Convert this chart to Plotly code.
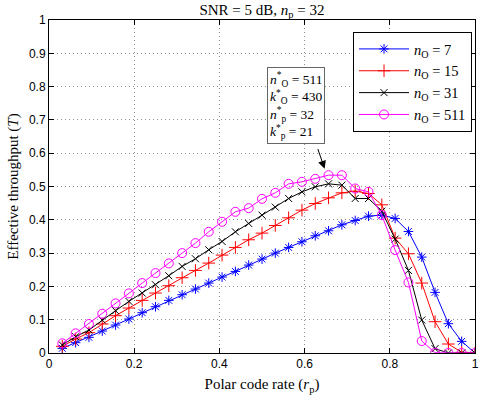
import plotly.graph_objects as go

n_p = 32
k_vals = list(range(1, 33))
rate = [k / n_p for k in k_vals]

thr_n7 = [0.014, 0.031, 0.047, 0.066, 0.084, 0.102, 0.121, 0.139, 0.158, 0.175,
          0.192, 0.210, 0.228, 0.245, 0.264, 0.282, 0.300, 0.317, 0.334, 0.352,
          0.367, 0.385, 0.398, 0.411, 0.414, 0.404, 0.365, 0.288, 0.182, 0.088,
          0.035, 0.0]
thr_n15 = [0.020, 0.042, 0.061, 0.087, 0.112, 0.135, 0.158, 0.180, 0.202, 0.226,
           0.248, 0.270, 0.294, 0.317, 0.340, 0.360, 0.383, 0.406, 0.429, 0.449,
           0.466, 0.481, 0.486, 0.479, 0.445, 0.345, 0.298, 0.210, 0.094, 0.027,
           0.002, 0.0]
thr_n31 = [0.024, 0.049, 0.069, 0.099, 0.127, 0.155, 0.180, 0.205, 0.232, 0.260,
           0.283, 0.310, 0.335, 0.364, 0.389, 0.414, 0.438, 0.464, 0.484, 0.499,
           0.508, 0.504, 0.464, 0.464, 0.426, 0.342, 0.248, 0.099, 0.013, 0.0,
           0.0, 0.0]
thr_n511 = [0.029, 0.059, 0.087, 0.118, 0.149, 0.179, 0.210, 0.240, 0.269, 0.300,
            0.330, 0.364, 0.394, 0.424, 0.435, 0.463, 0.481, 0.508, 0.514, 0.523,
            0.534, 0.534, 0.494, 0.484, 0.414, 0.309, 0.212, 0.036, 0.001, 0.0,
            0.0, 0.0]

series_names = ["7", "15", "31", "511"]
series_vals = [thr_n7, thr_n15, thr_n31, thr_n511]
colors = ["#0000FF", "#FF0000", "#000000", "#FF00FF"]
symbols = ["asterisk-open", "cross-thin-open", "x-thin-open", "circle-open"]
sizes = [8, 9, 7, 9]

x_ticks = [0, 0.2, 0.4, 0.6, 0.8, 1]
y_ticks = [round(0.1 * i, 1) for i in range(11)]

serif = "Liberation Serif, DejaVu Serif, serif"
sans = "Liberation Sans, Arial, sans-serif"

fig = go.Figure()
for name, vals, c, s, sz in zip(series_names, series_vals, colors, symbols, sizes):
    fig.add_trace(go.Scatter(
        x=rate, y=vals, mode="lines+markers",
        name=f"<i>n</i><sub>O</sub> = {name}",
        line=dict(color=c, width=1),
        marker=dict(symbol=s, size=sz, color=c, line=dict(color=c, width=1)),
    ))

axis_common = dict(
    showline=True, linecolor="black", linewidth=1, mirror="ticks",
    ticks="inside", ticklen=5, tickcolor="black",
    showgrid=True, gridcolor="#909090", griddash="1px,3px", gridwidth=1,
    zeroline=False, tickfont=dict(family=sans, size=12, color="black"),
)

fig.update_xaxes(range=[0, 1], tickvals=x_ticks, ticktext=[f"{v:g}" for v in x_ticks],
                 title=dict(text="Polar code rate (<i>r</i><sub>p</sub>)",
                            font=dict(family=serif, size=15, color="black"), standoff=8),
                 **axis_common)
fig.update_yaxes(range=[0, 1], tickvals=y_ticks, ticktext=[f"{v:g}" for v in y_ticks],
                 title=dict(text="Effective throughput (<i>T</i>)",
                            font=dict(family=serif, size=15, color="black"), standoff=6),
                 **axis_common)

fig.add_annotation(
    xref="paper", yref="paper", x=0.579, y=0.743, xanchor="center", yanchor="middle",
    text=("<i>n</i><sup>*</sup><sub>O</sub> = 511<br><i>k</i><sup>*</sup><sub>O</sub> = 430<br>"
          "<i>n</i><sup>*</sup><sub>p</sub> = 32<br><i>k</i><sup>*</sup><sub>p</sub> = 21"),
    showarrow=False, align="left", bgcolor="white", bordercolor="#666666",
    borderwidth=1, borderpad=2, font=dict(family=serif, size=13.5, color="black"),
)
fig.add_annotation(
    x=0.647, y=0.553, ax=0.630, ay=0.617, xref="x", yref="y", axref="x", ayref="y",
    text="", showarrow=True, arrowhead=2, arrowsize=1.6, arrowwidth=1, arrowcolor="black",
)

fig.update_layout(
    width=485, height=398,
    margin=dict(l=49, r=6, t=20, b=45, pad=0),
    paper_bgcolor="white", plot_bgcolor="white",
    title=dict(text="SNR = 5 dB, <i>n</i><sub>p</sub> = 32", xref="paper", x=0.5,
               xanchor="center", yref="container", y=1 - 10 / 398, yanchor="middle",
               font=dict(family=serif, size=15, color="black")),
    legend=dict(x=0.993, y=0.964, xanchor="right", yanchor="top",
                bordercolor="black", borderwidth=1, bgcolor="white",
                font=dict(family=serif, size=14.5, color="black"),
                itemwidth=50, tracegroupgap=0),
    showlegend=True,
)

fig.write_html("out.html", config={"displayModeBar": False},
               post_script="document.body.style.margin='0';")
